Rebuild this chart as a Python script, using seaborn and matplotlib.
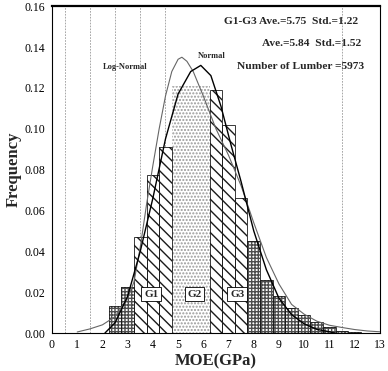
import numpy as np
import matplotlib
matplotlib.use("Agg")
import matplotlib.pyplot as plt
import seaborn as sns

# histogram of MOE classes (0.5 GPa wide), relative frequency per class
moe_mid = [2.5, 3.0, 3.5, 4.0, 4.5, 5.0, 5.5, 6.0, 6.5, 7.0, 7.5,
           8.0, 8.5, 9.0, 9.5, 10.0, 10.5, 11.0, 11.5, 12.0]
freq = [0.013, 0.0225, 0.047, 0.0775, 0.0913, 0.121, 0.121, 0.121, 0.119, 0.1016, 0.066,
        0.045, 0.026, 0.018, 0.012, 0.0088, 0.0056, 0.003, 0.0012, 0.0006]
grade = ['R', 'R', 'G1', 'G1', 'G1', 'G2', 'G2', 'G2', 'G3', 'G3', 'G3',
         'H', 'H', 'H', 'H', 'H', 'H', 'H', 'H', 'H']

# fitted curves
norm_x = [2.1, 2.5, 3.0, 3.5, 4.0, 4.5, 5.0, 5.5, 5.9, 6.3, 6.7, 7.1, 7.5,
          8.0, 8.5, 9.0, 9.5, 10.0, 10.5, 11.0, 11.2]
norm_y = [0.0, 0.005, 0.018, 0.040, 0.066, 0.095, 0.117, 0.128, 0.131, 0.126, 0.111,
          0.092, 0.074, 0.050, 0.031, 0.017, 0.009, 0.0045, 0.0018, 0.0006, 0.0]
logn_x = [1.0, 1.5, 2.0, 2.5, 3.0, 3.25, 3.5, 3.75, 4.0, 4.25, 4.5, 4.75, 5.0, 5.15,
          5.35, 5.6, 6.0, 6.5, 7.0, 7.5, 8.0, 8.5, 9.0, 9.5, 10.0, 10.5, 11.0,
          11.5, 12.0, 12.5, 13.0]
logn_y = [0.0005, 0.002, 0.004, 0.008, 0.017, 0.025, 0.042, 0.063, 0.082, 0.100, 0.116,
          0.128, 0.134, 0.135, 0.133, 0.128, 0.116, 0.100, 0.087, 0.072, 0.054, 0.037,
          0.024, 0.014, 0.0092, 0.0058, 0.0038, 0.0027, 0.0017, 0.001, 0.0006]

grid_x = [0.5, 1.0, 1.5, 2.0, 2.5, 3.0, 3.5, 4.0, 4.5, 6.0, 11.5]
grid_y = [0.02, 0.06, 0.08, 0.12]

hatch_of = {'R': '+++++', 'G1': '\\' * 3, 'G2': '.....', 'G3': '\\' * 3, 'H': '+++++'}
hcolor_of = {'R': '0.3', 'G1': '0.1', 'G2': '0.6', 'G3': '0.1', 'H': '0.3'}

sns.set_theme(style="white")
plt.rcParams['font.family'] = ['Liberation Serif', 'DejaVu Serif']
plt.rcParams['hatch.linewidth'] = 1.0

fig = plt.figure(figsize=(3.88, 3.71), dpi=100)
ax = fig.add_axes([0.134, 0.1024, 0.845, 0.881])

# filled, hatched bars
sns.histplot(x=moe_mid, weights=freq, binwidth=0.5, binrange=(2.25, 12.25),
             color='white', alpha=1, linewidth=0, ax=ax)
bars = list(ax.patches)
for p, g in zip(bars, grade):
    p.set_facecolor('white')
    p.set_edgecolor(hcolor_of[g])
    p.set_hatch(hatch_of[g])
    p.set_linewidth(0)
    p.set_zorder(2)

# outlines
sns.histplot(x=moe_mid, weights=freq, binwidth=0.5, binrange=(2.25, 12.25),
             fill=False, color='black', linewidth=0.6, ax=ax)
for p, g in zip(ax.patches[len(bars):], grade):
    p.set_edgecolor('0.1')
    p.set_zorder(2.5)
    if g == 'G2':
        p.set_visible(False)

sns.lineplot(x=logn_x, y=logn_y, color='0.4', linewidth=0.8, ax=ax, zorder=3)
sns.lineplot(x=norm_x, y=norm_y, color='black', linewidth=1.0, ax=ax, zorder=3)

ax.set_xlim(0, 13)
ax.set_ylim(0, 0.16)
ax.set_xticks(range(14))
ax.set_yticks(np.arange(0, 0.161, 0.02))
ax.set_yticklabels([f'{v:.2f}' for v in np.arange(0, 0.161, 0.02)])
ax.set_xticks(grid_x, minor=True)
ax.set_yticks(grid_y, minor=True)
ax.grid(False)
ax.grid(which='minor', linestyle=(0, (2, 1.5)), color='0.6', linewidth=0.6)
ax.set_axisbelow(True)
ax.tick_params(which='both', length=0, labelsize=8.5, colors='black')
ax.tick_params(axis='x', pad=4)
ax.tick_params(axis='y', pad=5)

for s in ax.spines.values():
    s.set_color('black')
    s.set_linewidth(0.8)
ax.spines['top'].set_linewidth(1.6)

ax.set_xlabel('MOE(GPa)', fontsize=12, fontweight='bold', labelpad=2)
ax.set_ylabel('Frequency', fontsize=12, fontweight='bold', labelpad=2)

# grade labels
box = dict(boxstyle='square,pad=0.25', fc='white', ec='black', lw=0.6)
for lab, xx in [('G1', 3.93), ('G2', 5.65), ('G3', 7.35)]:
    ax.text(xx, 0.019, lab, ha='center', va='center', fontsize=8,
            fontweight='bold', bbox=box, zorder=5)

ax.text(2.92, 0.130, 'Log-Normal', ha='center', va='center', fontsize=6,
        fontweight='bold', zorder=5)
ax.text(6.35, 0.1356, 'Normal', ha='center', va='center', fontsize=6,
        fontweight='bold', zorder=5)

ax.text(12.14, 0.1523, 'G1-G3 Ave.=5.75  Std.=1.22', ha='right', va='center',
        fontsize=8.2, fontweight='bold', zorder=5)
ax.text(12.26, 0.1419, 'Ave.=5.84  Std.=1.52', ha='right', va='center',
        fontsize=8.2, fontweight='bold', zorder=5)
ax.text(12.38, 0.1306, 'Number of Lumber =5973', ha='right', va='center',
        fontsize=8.2, fontweight='bold', zorder=5)

fig.savefig('out.png', dpi=100)
